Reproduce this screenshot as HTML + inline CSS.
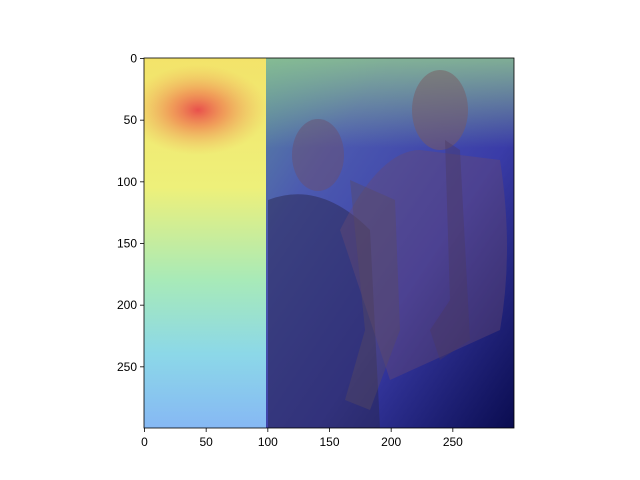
<!DOCTYPE html>
<html><head><meta charset="utf-8"><style>
html,body{margin:0;padding:0;background:#fff;}
svg{display:block;font-family:"Liberation Sans","DejaVu Sans",sans-serif;}
</style></head><body>
<svg id="chart" width="640" height="480" viewBox="0 0 640 480">
<defs>
<linearGradient id="leftG" x1="0" y1="0" x2="0" y2="1">
<stop offset="0" stop-color="#f3e36a"/><stop offset="0.35" stop-color="#eef07a"/>
<stop offset="0.6" stop-color="#a8eab8"/><stop offset="0.8" stop-color="#8cd8e8"/><stop offset="1" stop-color="#86b8f4"/>
</linearGradient>
<radialGradient id="hot" cx="0.5" cy="0.5" r="0.5">
<stop offset="0" stop-color="#e8484a" stop-opacity="0.95"/><stop offset="0.4" stop-color="#f08050" stop-opacity="0.7"/>
<stop offset="1" stop-color="#f0b060" stop-opacity="0"/>
</radialGradient>
<linearGradient id="rightG" x1="0" y1="0" x2="1" y2="1">
<stop offset="0" stop-color="#5a8aa0"/><stop offset="0.25" stop-color="#4c5ab0"/>
<stop offset="0.6" stop-color="#3a3ca8"/><stop offset="1" stop-color="#0a0c50"/>
</linearGradient>
<linearGradient id="topBand" x1="0" y1="0" x2="0" y2="1">
<stop offset="0" stop-color="#90c890" stop-opacity="0.8"/><stop offset="1" stop-color="#90c890" stop-opacity="0"/>
</linearGradient>
<clipPath id="imgClip"><rect x="144" y="58" width="370" height="370"/></clipPath>
</defs>
<g clip-path="url(#imgClip)">
<rect x="144" y="58" width="122" height="370" fill="url(#leftG)"/>
<ellipse cx="198" cy="110" rx="70" ry="45" fill="url(#hot)"/>
<rect x="266" y="58" width="248" height="370" fill="url(#rightG)"/>
<rect x="266" y="58" width="248" height="90" fill="url(#topBand)"/>
<ellipse cx="318" cy="155" rx="26" ry="36" fill="#6a5070" opacity="0.5"/>
<path d="M268 200 Q320 180 370 230 L380 428 L268 428 Z" fill="#2a2850" opacity="0.5"/>
<ellipse cx="440" cy="110" rx="28" ry="40" fill="#7a5a60" opacity="0.5"/>
<path d="M340 230 Q380 150 420 150 L500 160 Q514 250 500 330 L390 380 Z" fill="#6a4a70" opacity="0.4"/>
<path d="M350 180 L395 200 L400 330 L370 410 L345 400 L365 330 Z" fill="#5a4a60" opacity="0.4"/>
<path d="M445 140 L460 150 L470 340 L440 360 L430 330 L450 300 Z" fill="#4a3a60" opacity="0.4"/>
</g>
<g id="axes"></g>
</svg>
<script>
const xTicks=[0,50,100,150,200,250];
const yTicks=[0,50,100,150,200,250];
const domainMax=300;
const x0=144,y0=58,size=370;
const xs=v=>x0+v/domainMax*size, ys=v=>y0+v/domainMax*size;
const NS="http://www.w3.org/2000/svg", g=document.getElementById('axes');
function mk(t,a){const e=document.createElementNS(NS,t);for(const k in a)e.setAttribute(k,a[k]);g.appendChild(e);return e;}
const frame=mk('rect',{x:x0,y:y0,width:size,height:size,fill:'none',stroke:'#000','stroke-width':0.8});


xTicks.forEach(v=>{const x=xs(v)+0.5;
const l=mk('line',{x1:x,x2:x,y1:y0+size,y2:y0+size+4,stroke:'#000','stroke-width':0.8});


const t=mk('text',{x:x,y:y0+size+18,'font-size':12,'text-anchor':'middle',fill:'#000'});t.textContent=v;

});
yTicks.forEach(v=>{const y=ys(v)+0.5;
const l=mk('line',{x1:x0-4,x2:x0,y1:y,y2:y,stroke:'#000','stroke-width':0.8});


const t=mk('text',{x:x0-7,y:y+4,'font-size':12,'text-anchor':'end',fill:'#000'});t.textContent=v;

});
</script>
</body></html>
